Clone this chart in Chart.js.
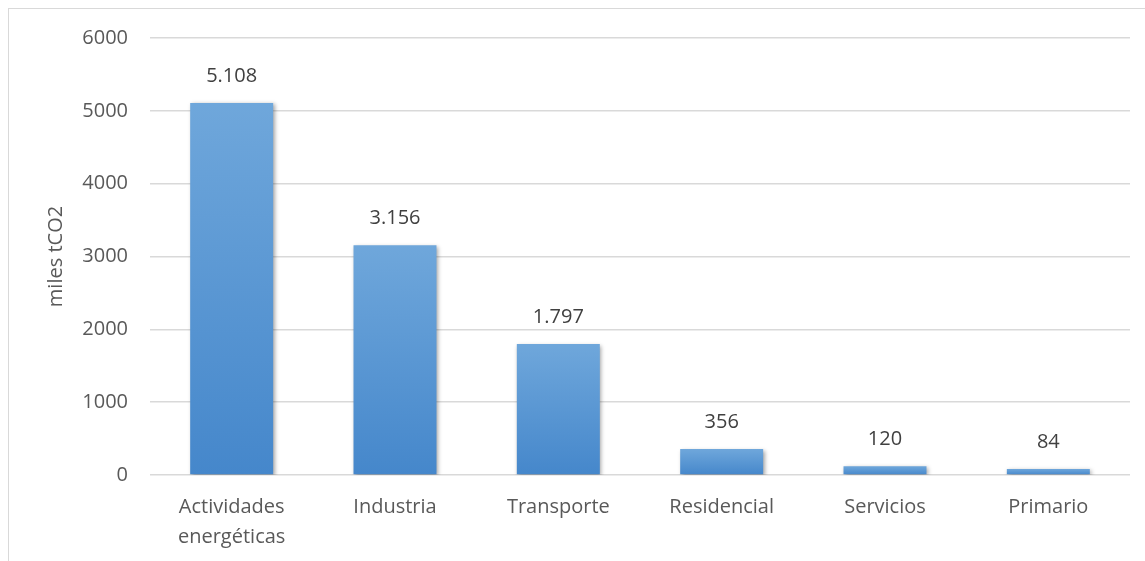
<!DOCTYPE html>
<html>
<head>
<meta charset="utf-8">
<script src="https://cdn.jsdelivr.net/npm/chart.js@4"></script>
<style>
  html, body { margin: 0; padding: 0; background: #fff; overflow: hidden; }
  #frame {
    position: absolute; left: 8px; top: 8px;
    width: 1200px; height: 600px;
    border: 1px solid #d9d9d9;
  }
  #wrap { position: absolute; left: 0; top: 0; width: 1136px; height: 552px; }
</style>
</head>
<body>
<div id="frame"><div id="wrap"><canvas id="emisionesChart"></canvas></div></div>
<script>
const categorias = [
  ["Actividades", "energéticas"],
  "Industria",
  "Transporte",
  "Residencial",
  "Servicios",
  "Primario",
];
const emisiones = [5108, 3156, 1797, 356, 120, 84];
const etiquetas = ["5.108", "3.156", "1.797", "356", "120", "84"];
const ticksY = [0, 1000, 2000, 3000, 4000, 5000, 6000];

const fuente = "'Open Sans', 'Liberation Sans', sans-serif";

// gradient per bar, lighter on top
function relleno(context) {
  const chart = context.chart;
  const y = chart.scales.y;
  if (!chart.chartArea || !y || context.type !== "data") return "#5a97d4";
  const top = y.getPixelForValue(context.raw);
  const bottom = y.getPixelForValue(0);
  if (!isFinite(top) || !isFinite(bottom)) return "#5a97d4";
  const g = chart.ctx.createLinearGradient(0, top, 0, Math.max(bottom, top + 1));
  g.addColorStop(0, "#6fa7db");
  g.addColorStop(1, "#4587cb");
  return g;
}

const sombra = {
  id: "sombra",
  beforeDatasetsDraw(chart) {
    const ctx = chart.ctx;
    ctx.save();
    ctx.shadowColor = "rgba(0,0,0,0.35)";
    ctx.shadowBlur = 4;
    ctx.shadowOffsetX = 1.5;
    ctx.shadowOffsetY = 1.5;
  },
  afterDatasetsDraw(chart) {
    chart.ctx.restore();
  },
};

const rotulos = {
  id: "rotulos",
  afterDatasetsDraw(chart) {
    const ctx = chart.ctx;
    const meta = chart.getDatasetMeta(0);
    ctx.save();
    ctx.shadowColor = "transparent";
    ctx.font = "20px " + fuente;
    ctx.fillStyle = "#404040";
    ctx.textAlign = "center";
    ctx.textBaseline = "middle";
    meta.data.forEach((bar, i) => {
      ctx.fillText(etiquetas[i], bar.x, bar.y - 27);
    });
    ctx.restore();
  },
};

const ctx = document.getElementById("emisionesChart").getContext("2d");
const emisionesChart = new Chart(ctx, {
  type: "bar",
  data: {
    labels: categorias,
    datasets: [
      {
        label: "miles tCO2",
        data: emisiones,
        backgroundColor: relleno,
        borderWidth: 0,
        barPercentage: 0.508,
        categoryPercentage: 1,
      },
    ],
  },
  options: {
    responsive: true,
    maintainAspectRatio: false,
    animation: false,
    layout: { padding: { left: 35, right: 15, top: 29, bottom: 0 } },
    plugins: {
      legend: { display: false },
      tooltip: { enabled: false },
    },
    scales: {
      x: {
        grid: { display: false, drawTicks: false },
        border: { display: false },
        ticks: {
          color: "#595959",
          font: { family: fuente, size: 20, lineHeight: 1.5 },
          padding: 17,
          maxRotation: 0,
          autoSkip: false,
        },
        afterFit(scale) {
          scale.height = 86;
          scale.paddingLeft = 0;
          scale.paddingRight = 0;
        },
      },
      y: {
        min: 0,
        max: 6000,
        afterBuildTicks(scale) {
          scale.ticks = ticksY.map((v) => ({ value: v }));
        },
        grid: { color: "#d9d9d9", lineWidth: 1.5, drawTicks: false },
        border: { display: false },
        ticks: {
          color: "#595959",
          font: { family: fuente, size: 20 },
          padding: 22,
          callback: (v) => String(v),
        },
        title: {
          display: true,
          text: "miles tCO2",
          color: "#595959",
          font: { family: fuente, size: 20 },
          padding: { top: 0, bottom: 0 },
        },
        afterFit(scale) {
          scale.width = 106;
          scale.paddingTop = 0;
          scale.paddingBottom = 0;
        },
      },
    },
  },
  plugins: [sombra, rotulos],
});
</script>
</body>
</html>
